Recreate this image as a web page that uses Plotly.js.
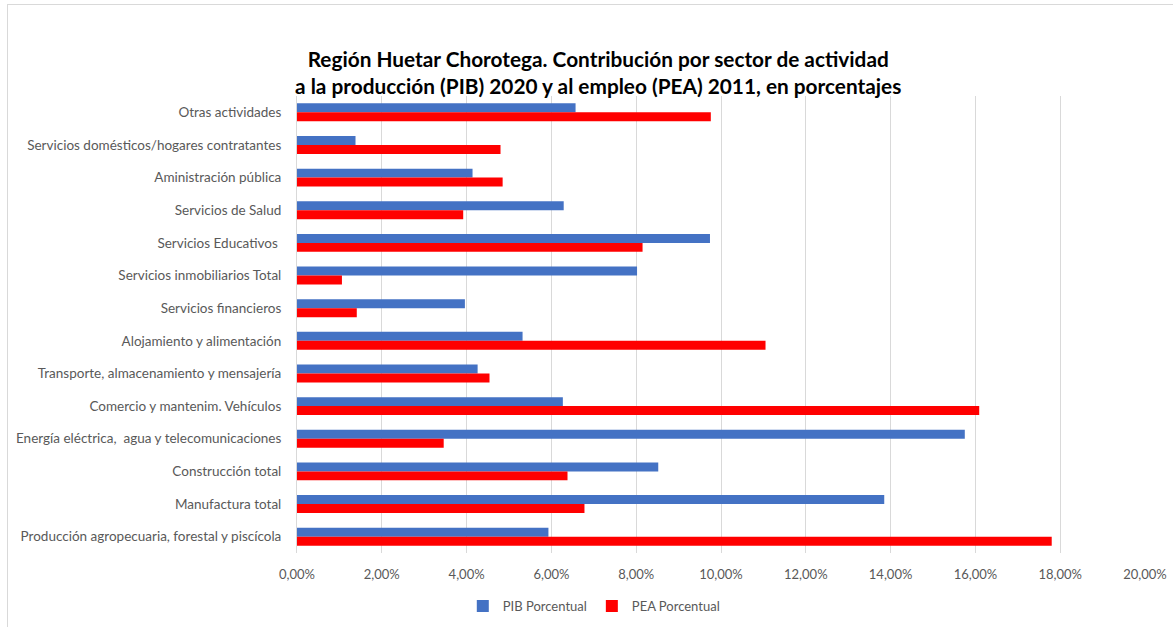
<!DOCTYPE html>
<html>
<head>
<meta charset="utf-8">
<script src="https://cdn.plot.ly/plotly-3.0.1.min.js"></script>
<style>
html,body{margin:0;padding:0;background:#fff;}
#wrap{position:relative;width:1173px;height:627px;overflow:hidden;}
#chart{position:absolute;left:0;top:0;width:1173px;height:627px;}
#border{position:absolute;left:7px;top:4px;width:1200px;height:700px;border:1px solid #d9d9d9;pointer-events:none;}
</style>
</head>
<body>
<div id="wrap"><div id="chart"></div><div id="border"></div></div>
<script>
const categories = [
  "Otras actividades",
  "Servicios domésticos/hogares contratantes",
  "Aministración pública",
  "Servicios de Salud",
  "Servicios Educativos ",
  "Servicios inmobiliarios Total",
  "Servicios financieros",
  "Alojamiento y alimentación",
  "Transporte, almacenamiento y mensajería",
  "Comercio y mantenim. Vehículos",
  "Energía eléctrica,  agua y telecomunicaciones",
  "Construcción total",
  "Manufactura total",
  "Producción agropecuaria, forestal y piscícola"
];
const pibPorcentual = [6.57, 1.38, 4.14, 6.29, 9.74, 8.02, 3.96, 5.32, 4.26, 6.27, 15.75, 8.52, 13.85, 5.93];
const peaPorcentual = [9.76, 4.80, 4.85, 3.92, 8.15, 1.06, 1.41, 11.05, 4.54, 16.09, 3.46, 6.38, 6.78, 17.80];
const xTicks = [0, 2, 4, 6, 8, 10, 12, 14, 16, 18, 20];
const xTickText = xTicks.map(v => v.toFixed(2).replace('.', ',') + '%');

const traces = [
  {type:'bar', orientation:'h', name:'PIB Porcentual', y:categories, x:pibPorcentual,
   marker:{color:'#4472C4'}},
  {type:'bar', orientation:'h', name:'PEA Porcentual', y:categories, x:peaPorcentual,
   marker:{color:'#FF0000'}}
];

const layout = {
  width:1173, height:627,
  margin:{l:297, r:28, t:96, b:74, autoexpand:false},
  paper_bgcolor:'#ffffff', plot_bgcolor:'#ffffff',
  separators:',.',
  barmode:'group', bargap:0.45, bargroupgap:0,
  font:{family:'Lato, Carlito, sans-serif', color:'#595959', size:13.5},
  title:{text:'<b>Región Huetar Chorotega. Contribución por sector de actividad<br>a la producción (PIB) 2020 y al empleo (PEA) 2011, en porcentajes</b>',
         font:{family:'Lato, sans-serif', size:20.8, color:'#000000'},
         x:0.51, xref:'container', xanchor:'center', yref:'container', y:0.893, yanchor:'top'},
  xaxis:{range:[0,20], tickmode:'array', tickvals:xTicks, ticktext:xTickText,
         showgrid:true, gridcolor:'#d9d9d9', gridwidth:1, zeroline:false,
         showline:false, ticks:'', ticklabelstandoff:12, automargin:false,
         tickfont:{size:13, color:'#595959'}},
  yaxis:{autorange:'reversed', type:'category', showgrid:false, zeroline:false,
         showline:true, linecolor:'#d9d9d9', linewidth:1, ticks:'', ticklabelstandoff:12,
         automargin:false, tickfont:{size:13.5, color:'#595959'}},
  legend:{orientation:'h', x:0.35, xanchor:'center', yref:'container', y:0.0335, yanchor:'middle',
          font:{size:13, color:'#595959'}, itemwidth:30, traceorder:'normal'},
  showlegend:true
};

Plotly.newPlot('chart', traces, layout, {displayModeBar:false, staticPlot:true});
</script>
</body>
</html>
